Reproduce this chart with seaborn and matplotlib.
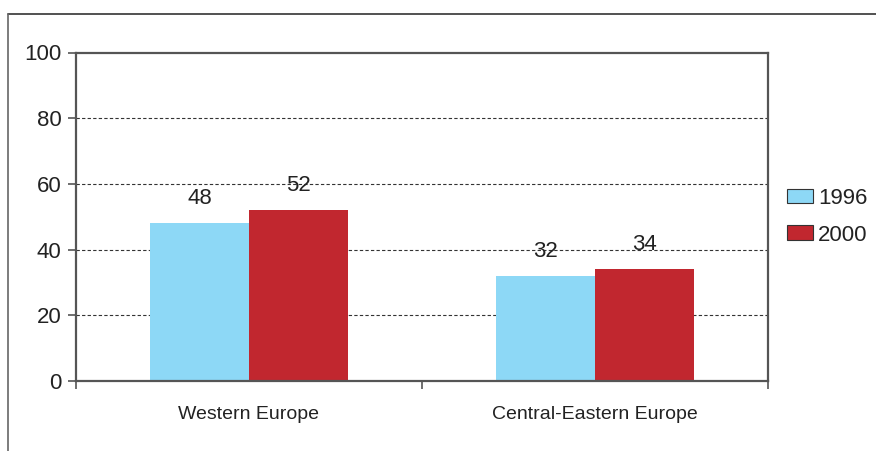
import matplotlib
matplotlib.use("Agg")
import matplotlib.pyplot as plt
from matplotlib.lines import Line2D
from matplotlib.ticker import FixedLocator
import seaborn as sns
import pandas as pd

regions = ["Western Europe", "Central-Eastern Europe"]
years = ["1996", "2000"]
values_1996 = [48, 32]
values_2000 = [52, 34]
y_ticks = [0, 20, 40, 60, 80, 100]

df = pd.DataFrame({
    "region": regions * 2,
    "year": [years[0]] * len(regions) + [years[1]] * len(regions),
    "value": values_1996 + values_2000,
})

sns.set_style("white")
plt.rcParams["font.family"] = ["Liberation Sans", "DejaVu Sans"]

fig = plt.figure(figsize=(8.76, 4.51), dpi=100)
ax = fig.add_axes([76 / 876, 1 - 381 / 451, (768 - 76) / 876, (381 - 52.5) / 451])

palette = {"1996": "#8DD8F6", "2000": "#C1272F"}
sns.barplot(data=df, x="region", y="value", hue="year", order=regions,
            hue_order=years, palette=palette, width=0.572, saturation=1,
            edgecolor="none", linewidth=0, ax=ax)

for cont in ax.containers:
    ax.bar_label(cont, fmt="%d", padding=10, fontsize=16, color="#222222")

ax.set_ylim(0, 100)
ax.set_xlim(-0.5, 1.5)
ax.set_yticks(y_ticks)
ax.set_yticklabels([str(t) for t in y_ticks], fontsize=16, color="#222222")
ax.tick_params(axis="y", direction="out", length=5.5, width=1.2, color="#555555", pad=5, left=True)
ax.tick_params(axis="x", which="major", length=0, pad=18, labelsize=14, labelcolor="#222222")
ax.xaxis.set_minor_locator(FixedLocator([-0.5, 0.5, 1.5]))
ax.tick_params(axis="x", which="minor", direction="out", length=6, width=1.2, color="#555555", bottom=True)
ax.set_xlabel("")
ax.set_ylabel("")

for y in y_ticks[1:-1]:
    ax.axhline(y, color="#333333", linestyle=(0, (3, 2)), linewidth=0.8, zorder=0)

for s in ax.spines.values():
    s.set_visible(True)
    s.set_color("#555555")
    s.set_linewidth(1.6)

leg = ax.legend(loc="center left", bbox_to_anchor=(1.0275, 0.5), frameon=False,
                fontsize=16, handlelength=1.17, handleheight=0.63, handletextpad=0.22,
                labelspacing=0.7, borderaxespad=0, borderpad=0)
for h in leg.legend_handles:
    h.set_edgecolor("#333333")
    h.set_linewidth(0.8)
for t in leg.get_texts():
    t.set_color("#222222")

# outer frame: top and left rules
fig.add_artist(Line2D([8 / 876, 1.0], [1 - 14 / 451, 1 - 14 / 451], color="#333333", linewidth=1.2))
fig.add_artist(Line2D([8 / 876, 8 / 876], [0, 1 - 14 / 451], color="#666666", linewidth=1.2))

fig.savefig("out.png", dpi=100)
